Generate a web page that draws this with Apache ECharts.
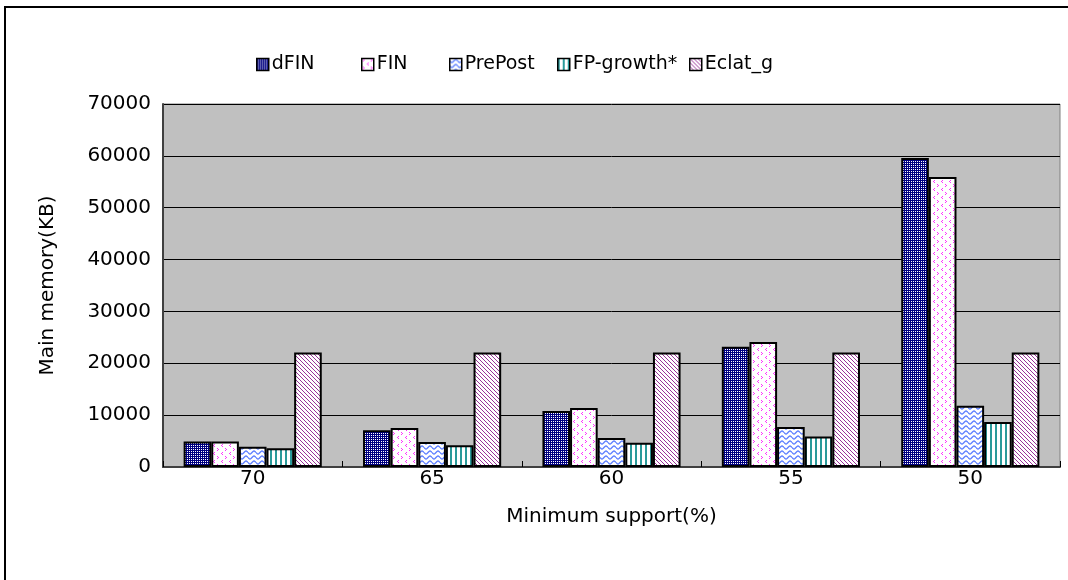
<!DOCTYPE html>
<html>
<head>
<meta charset="utf-8">
<script src="https://cdn.jsdelivr.net/npm/echarts@6/dist/echarts.min.js"></script>
<style>
  html, body { margin: 0; padding: 0; background: #fff; }
  #chart { width: 1068px; height: 580px; }
</style>
</head>
<body>
<div id="chart"></div>
<script>
// Minimum support thresholds (%)
const categories = ['70', '65', '60', '55', '50'];
// Main memory usage (KB) per algorithm
const dFIN      = [4900, 7100, 10800, 23200, 59600];
const FIN       = [4900, 7500, 11400, 24100, 55900];
const PrePost   = [3900, 4800, 5600, 7700, 11800];
const FPgrowth  = [3600, 4200, 4700, 5900, 8700];
const Eclat_g   = [22100, 22100, 22100, 22100, 22100];
const seriesNames = ['dFIN', 'FIN', 'PrePost', 'FP-growth*', 'Eclat_g'];
const yTicks = { min: 0, max: 70000, interval: 10000 };

// Small repeating fill patterns drawn on canvases
function tile(w, h, draw) {
  const c = document.createElement('canvas');
  c.width = w; c.height = h;
  const g = c.getContext('2d');
  g.fillStyle = '#ffffff';
  g.fillRect(0, 0, w, h);
  draw(g);
  return { image: c, repeat: 'repeat' };
}
const patterns = [
  // navy checker
  tile(4, 4, g => {
    g.fillStyle = '#000080';
    g.fillRect(0, 0, 4, 4);
    g.fillStyle = '#ffffff';
    [[1, 1], [3, 3], [1, 3], [3, 1]].forEach(p => g.fillRect(p[0], p[1], 1, 1));
  }),
  // magenta arrow-heads on white
  tile(8, 8, g => {
    g.fillStyle = '#ff33ff';
    [[1, 0], [2, 1], [1, 2], [6, 4], [5, 5], [6, 6]].forEach(p => g.fillRect(p[0], p[1], 1, 1));
  }),
  // blue waves
  tile(8, 5, g => {
    g.strokeStyle = '#5a7dff';
    g.lineWidth = 1.3;
    g.beginPath();
    for (let x = 0; x <= 8; x += 0.5) {
      const y = 2.5 + 1.5 * Math.sin((x / 8) * Math.PI * 2);
      if (x === 0) g.moveTo(x, y); else g.lineTo(x, y);
    }
    g.stroke();
  }),
  // teal vertical stripes
  tile(5, 4, g => {
    g.fillStyle = '#2a9a9a';
    g.fillRect(0, 0, 2, 4);
  }),
  // purple diagonal lines
  tile(4, 4, g => {
    g.fillStyle = '#993399';
    for (let i = 0; i < 4; i++) g.fillRect(i, i, 1, 1);
  })
];

const values = [dFIN, FIN, PrePost, FPgrowth, Eclat_g];
const FONT = 'DejaVu Sans';

const legendLeft = [256, 361, 449, 557, 689];
const legends = seriesNames.map((n, i) => ({
  data: [n],
  left: legendLeft[i],
  top: 55,
  icon: 'rect',
  itemWidth: 12,
  itemHeight: 12,
  itemGap: 0,
  padding: 0,
  selectedMode: false,
  itemStyle: { borderColor: '#000', borderWidth: 1.5 },
  textStyle: { fontFamily: FONT, fontSize: 19, color: '#000', padding: [0, 0, 0, -2] }
}));

const chart = echarts.init(document.getElementById('chart'), null, { renderer: 'canvas' });
chart.setOption({
  animation: false,
  backgroundColor: '#ffffff',
  graphic: [{
    type: 'rect',
    shape: { x: 5, y: 7, width: 1200, height: 700 },
    style: { fill: 'none', stroke: '#000', lineWidth: 2 },
    silent: true
  }],
  legend: legends,
  grid: {
    left: 163, top: 104, width: 897, height: 363,
    show: true, backgroundColor: '#c0c0c0', borderColor: '#808080', borderWidth: 1
  },
  xAxis: {
    type: 'category',
    data: categories,
    name: 'Minimum support(%)',
    nameLocation: 'middle',
    nameGap: 40,
    nameTextStyle: { fontFamily: FONT, fontSize: 20, color: '#000' },
    axisLine: { lineStyle: { color: '#404040', width: 2 } },
    axisTick: { show: true, inside: true, length: 6, lineStyle: { color: '#000', width: 1 } },
    axisLabel: { fontFamily: FONT, fontSize: 20, color: '#000', margin: 2 }
  },
  yAxis: {
    type: 'value',
    min: yTicks.min, max: yTicks.max, interval: yTicks.interval,
    name: 'Main memory(KB)',
    nameLocation: 'middle',
    nameGap: 105,
    nameTextStyle: { fontFamily: FONT, fontSize: 20, color: '#000' },
    axisLine: { show: true, lineStyle: { color: '#404040', width: 2 } },
    axisTick: { show: false },
    axisLabel: { fontFamily: FONT, fontSize: 20, color: '#000', margin: 12, formatter: v => String(v) },
    splitLine: { lineStyle: { color: '#000', width: 1 } }
  },
  series: seriesNames.map((n, i) => ({
    name: n,
    type: 'bar',
    data: values[i],
    barGap: '0%',
    barCategoryGap: '23%',
    itemStyle: { color: patterns[i], borderColor: '#000', borderWidth: 2 }
  }))
});
</script>
</body>
</html>
